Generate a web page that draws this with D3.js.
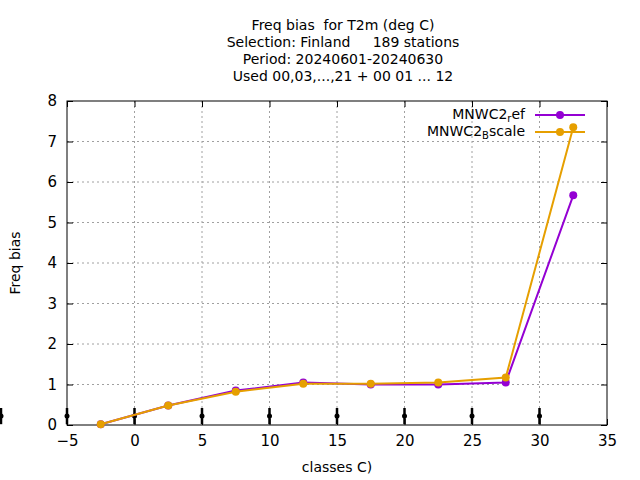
<!DOCTYPE html><html><head><meta charset="utf-8"><script src="https://cdn.jsdelivr.net/npm/d3@7"></script>
<style>body{margin:0;background:#fff}text{font-family:"DejaVu Sans",sans-serif;white-space:pre;}</style></head><body>
<svg id="c" width="640" height="480"></svg>
<script>
const xs=[-2.5,2.5,7.5,12.5,17.5,22.5,27.5,32.5];
const ref=[0.02,0.48,0.85,1.05,1.0,1.0,1.05,5.67];
const bscale=[0.02,0.48,0.82,1.02,1.02,1.05,1.17,7.35];
const xTicks=[-5,0,5,10,15,20,25,30,35];
const yTicks=[0,1,2,3,4,5,6,7,8];
const barX=[-10,-5,0,5,10,15,20,25,30];
const titleLines=["Freq bias  for T2m (deg C)","Selection: Finland     189 stations","Period: 20240601-20240630","Used 00,03,...,21 + 00 01 ... 12"];
const svg=d3.select("#c");
const x=d3.scaleLinear().domain([-5,35]).range([67,607]);
const y=d3.scaleLinear().domain([0,8]).range([425,101]);
const g=svg.append("g");
xTicks.slice(1,-1).forEach(t=>g.append("line").attr("x1",x(t)).attr("x2",x(t)).attr("y1",101).attr("y2",425).attr("stroke","#a0a0a0").attr("stroke-dasharray","2,3"));
yTicks.slice(1,-1).forEach(t=>g.append("line").attr("x1",67).attr("x2",607).attr("y1",y(t)).attr("y2",y(t)).attr("stroke","#a0a0a0").attr("stroke-dasharray","2,3"));
svg.append("rect").attr("x",67).attr("y",101).attr("width",540).attr("height",324).attr("fill","none").attr("stroke","#000");
svg.append("g").attr("transform","translate(0,425)").call(d3.axisBottom(x).tickValues(xTicks).tickSize(-6).tickPadding(10)).call(a=>{a.select(".domain").remove();a.selectAll("text").attr("font-size",15).attr("fill","#000");});
svg.append("g").attr("transform","translate(607,0)").call(d3.axisLeft(y).tickValues(yTicks).tickSize(6).tickFormat("")).call(a=>a.select(".domain").remove());
svg.append("g").attr("transform","translate(67,0)").call(d3.axisLeft(y).tickValues(yTicks).tickSize(-6).tickPadding(10)).call(a=>{a.select(".domain").remove();a.selectAll("text").attr("font-size",15).attr("fill","#000");});
svg.append("g").attr("transform","translate(0,101)").call(d3.axisTop(x).tickValues(xTicks).tickSize(-6).tickFormat("")).call(a=>a.select(".domain").remove());
barX.forEach(b=>{const px=Math.max(x(b),1);svg.append("line").attr("x1",px).attr("x2",px).attr("y1",y(0.02)).attr("y2",y(0.42)).attr("stroke","#000").attr("stroke-width",2.5);svg.append("circle").attr("cx",px).attr("cy",y(0.22)).attr("r",2.5).attr("fill","#000");});
const line=d3.line().x((d,i)=>x(xs[i])).y(d=>y(d));
[[ref,"#9400d3"],[bscale,"#e69f00"]].forEach(([s,c])=>{svg.append("path").attr("d",line(s)).attr("fill","none").attr("stroke",c).attr("stroke-width",2);
s.forEach((v,i)=>svg.append("circle").attr("cx",x(xs[i])).attr("cy",y(v)).attr("r",4).attr("fill",c));});
const leg=[["MNWC2","r","ef","#9400d3",115],["MNWC2","B","scale","#e69f00",132]];
leg.forEach(([a,s,b,c,yy])=>{const t=svg.append("text").attr("x",525).attr("y",yy+4).attr("text-anchor","end").attr("font-size",14);
t.append("tspan").text(a);t.append("tspan").attr("dy",3).attr("font-size",10).text(s);t.append("tspan").attr("dy",-3).text(b);
svg.append("line").attr("x1",535).attr("x2",585).attr("y1",yy).attr("y2",yy).attr("stroke",c).attr("stroke-width",2);
svg.append("circle").attr("cx",560).attr("cy",yy).attr("r",4).attr("fill",c);});
titleLines.forEach((t,i)=>svg.append("text").attr("x",343).attr("y",30+i*17).attr("text-anchor","middle").attr("font-size",14).text(t));
svg.append("text").attr("x",337).attr("y",472).attr("text-anchor","middle").attr("font-size",14).text("classes C)");
svg.append("text").attr("transform","translate(20,263) rotate(-90)").attr("text-anchor","middle").attr("font-size",14).text("Freq bias");
</script></body></html>
